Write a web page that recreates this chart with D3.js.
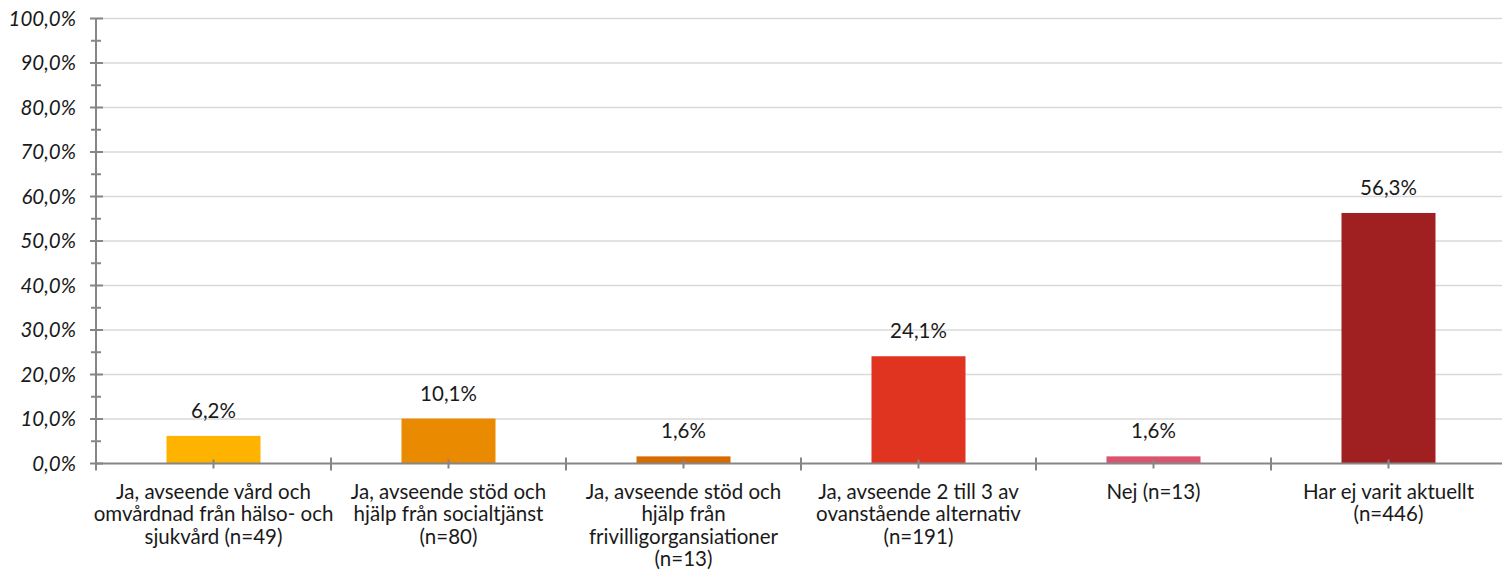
<!DOCTYPE html>
<html>
<head>
<meta charset="utf-8">
<script src="https://cdn.jsdelivr.net/npm/d3@7"></script>
<style>
  body { margin: 0; background: #fff; }
  svg { display: block; font-family: Lato, "Open Sans", sans-serif; }
  .ytick { font-style: italic; font-size: 20.5px; fill: #1a1a1a; }
  .val { font-size: 20.5px; fill: #1a1a1a; }
  .cat { font-size: 20.5px; fill: #1a1a1a; }
</style>
</head>
<body>
<svg id="chart" width="1502" height="579"></svg>
<script>
// categories (line breaks as in the original)
const categories = [
  "Ja, avseende vård och\nomvårdnad från hälso- och\nsjukvård (n=49)",
  "Ja, avseende stöd och\nhjälp från socialtjänst\n(n=80)",
  "Ja, avseende stöd och\nhjälp från\nfrivilligorgansiationer\n(n=13)",
  "Ja, avseende 2 till 3 av\novanstående alternativ\n(n=191)",
  "Nej (n=13)",
  "Har ej varit aktuellt\n(n=446)"
];
const values = [6.2, 10.1, 1.6, 24.1, 1.6, 56.3];
const barColors = ["#FDB300", "#EA8A00", "#D86A00", "#E03320", "#DA5470", "#A02022"];
const yTicks = [0, 10, 20, 30, 40, 50, 60, 70, 80, 90, 100];

const svg = d3.select("#chart");
const plotLeft = 96, plotRight = 1506, plotTop = 18.5, plotBottom = 463.5;

const x = d3.scaleBand().domain(d3.range(categories.length)).range([plotLeft, plotRight]).padding(0);
const y = d3.scaleLinear().domain([0, 100]).range([plotBottom, plotTop]);
const fmt = v => d3.format(".1f")(v).replace(".", ",") + "%";

// gridlines
svg.append("g")
  .selectAll("line")
  .data(yTicks.slice(1))
  .enter()
  .append("line")
  .attr("x1", plotLeft).attr("x2", 1502)
  .attr("y1", d => y(d)).attr("y2", d => y(d))
  .attr("stroke", "#d9d9d9").attr("stroke-width", 1.5);

// bars
const barW = x.bandwidth() * 0.4;
svg.append("g")
  .selectAll("rect")
  .data(values)
  .enter()
  .append("rect")
  .attr("x", (d, i) => x(i) + x.bandwidth() / 2 - barW / 2)
  .attr("width", barW)
  .attr("y", d => y(d))
  .attr("height", d => plotBottom - y(d))
  .attr("fill", (d, i) => barColors[i]);

// value labels
svg.append("g")
  .selectAll("text")
  .data(values)
  .enter()
  .append("text")
  .attr("class", "val")
  .attr("text-anchor", "middle")
  .attr("x", (d, i) => x(i) + x.bandwidth() / 2)
  .attr("y", d => y(d) - 18)
  .text(d => fmt(d));

// y axis
const axisColor = "#868686";
svg.append("line")
  .attr("x1", plotLeft).attr("x2", plotLeft)
  .attr("y1", y(100)).attr("y2", plotBottom + 4)
  .attr("stroke", axisColor).attr("stroke-width", 2);

svg.append("g")
  .selectAll("line")
  .data(d3.range(0, 101, 5))
  .enter()
  .append("line")
  .attr("x1", d => d % 10 === 0 ? plotLeft - 6 : plotLeft - 5)
  .attr("x2", d => d % 10 === 0 ? plotLeft + 7 : plotLeft + 5)
  .attr("y1", d => y(d)).attr("y2", d => y(d))
  .attr("stroke", axisColor).attr("stroke-width", 2);

svg.append("g")
  .selectAll("text")
  .data(yTicks)
  .enter()
  .append("text")
  .attr("class", "ytick")
  .attr("text-anchor", "end")
  .attr("x", 76)
  .attr("y", d => y(d))
  .attr("dy", "0.35em")
  .text(d => fmt(d));

// x axis
svg.append("line")
  .attr("x1", plotLeft).attr("x2", 1502)
  .attr("y1", plotBottom).attr("y2", plotBottom)
  .attr("stroke", axisColor).attr("stroke-width", 2);

const xTickPos = d3.range(0, categories.length * 2 + 1).map(k => plotLeft + k * x.step() / 2);
svg.append("g")
  .selectAll("line")
  .data(xTickPos)
  .enter()
  .append("line")
  .attr("x1", d => d).attr("x2", d => d)
  .attr("y1", (d, i) => i % 2 === 0 ? plotBottom - 6 : plotBottom - 4)
  .attr("y2", (d, i) => i % 2 === 0 ? plotBottom + 7 : plotBottom + 5)
  .attr("stroke", axisColor).attr("stroke-width", 2);

// category labels
const catG = svg.append("g")
  .selectAll("text")
  .data(categories)
  .enter()
  .append("text")
  .attr("class", "cat")
  .attr("text-anchor", "middle")
  .attr("x", (d, i) => x(i) + x.bandwidth() / 2)
  .attr("y", 499);

catG.selectAll("tspan")
  .data(d => d.split("\n"))
  .enter()
  .append("tspan")
  .attr("x", function () { return this.parentNode.getAttribute("x"); })
  .attr("dy", (d, i) => i === 0 ? 0 : 22.3)
  .text(d => d);
</script>
</body>
</html>
